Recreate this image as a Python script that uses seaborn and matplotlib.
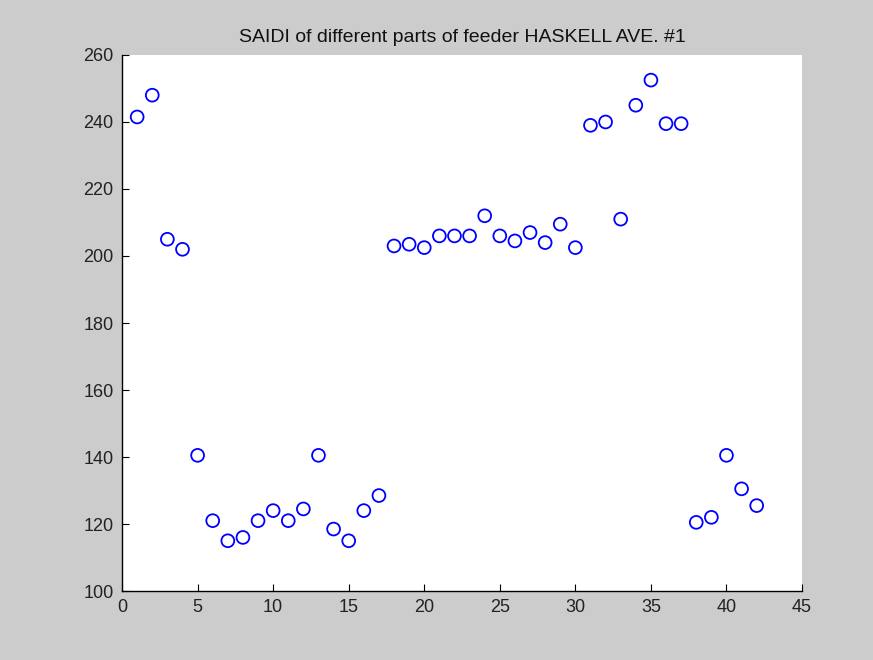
import numpy as np
import pandas as pd
import seaborn as sns
import matplotlib
matplotlib.use("Agg")
import matplotlib.pyplot as plt

# feeder section index and its SAIDI value
section = list(range(1, 43))
saidi = [241.5, 248, 205, 202, 140.5, 121, 115, 116, 121, 124,
         121, 124.5, 140.5, 118.5, 115, 124, 128.5, 203, 203.5, 202.5,
         206, 206, 206, 212, 206, 204.5, 207, 204, 209.5, 202.5,
         239, 240, 211, 245, 252.5, 239.5, 239.5, 120.5, 122, 140.5,
         130.5, 125.5]
xticks = [0, 5, 10, 15, 20, 25, 30, 35, 40, 45]
yticks = [100, 120, 140, 160, 180, 200, 220, 240, 260]

df = pd.DataFrame({"section": section, "saidi": saidi})

sns.set_style("ticks")
plt.rcParams["font.family"] = ["Liberation Sans", "DejaVu Sans"]

fig = plt.figure(figsize=(8.73, 6.6), dpi=100, facecolor="#cccccc")
ax = fig.add_axes([0.1398, 0.1045, 0.7789, 0.8122])
ax.set_facecolor("white")

sns.scatterplot(data=df, x="section", y="saidi", ax=ax, marker="o", s=85,
                facecolor="none", edgecolor="#0000ff", linewidth=1.3)

ax.set_xlim(0, 45)
ax.set_ylim(100, 260)
ax.set_xticks(xticks)
ax.set_yticks(yticks)
ax.set_xlabel("")
ax.set_ylabel("")
ax.set_title("SAIDI of different parts of feeder HASKELL AVE. #1",
             fontsize=14, pad=9, color="#111111")
ax.tick_params(direction="in", length=5, labelsize=13, colors="black",
               labelcolor="#222222", pad=6)
sns.despine(ax=ax)
for s in ["left", "bottom"]:
    ax.spines[s].set_color("black")
    ax.spines[s].set_linewidth(1)

fig.savefig("out.png", dpi=100, facecolor=fig.get_facecolor())
